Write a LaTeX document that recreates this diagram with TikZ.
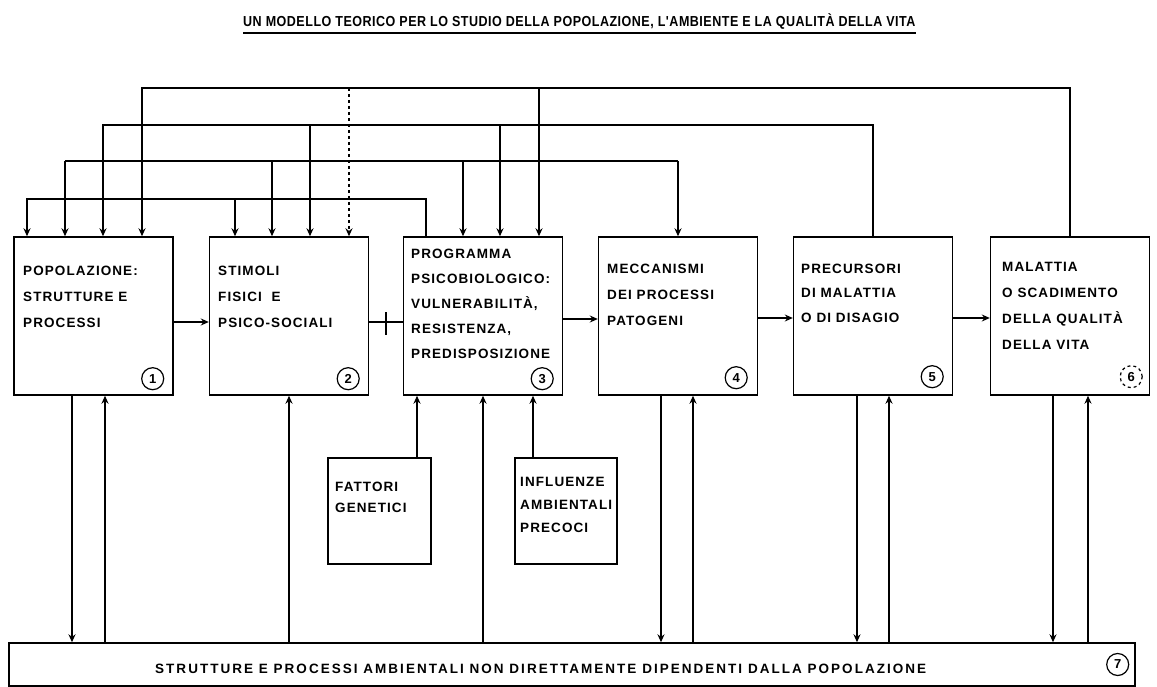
\documentclass[tikz,border=0pt]{standalone}
\usepackage{fontspec}
\setmainfont{Liberation Sans}
\newfontfamily\lett[LetterSpace=8]{Liberation Sans Bold}
\newfontfamily\lettw[LetterSpace=15]{Liberation Sans Bold}
\newfontfamily\letttit[LetterSpace=4]{Liberation Sans Bold}
\usetikzlibrary{arrows.meta,calc}
\begin{document}
\begin{tikzpicture}[x=1pt,y=-1pt,
  box/.style={draw,line width=1.4pt,minimum width=159pt,minimum height=158pt,inner sep=0pt},
  sbox/.style={draw,line width=1.4pt,minimum width=103pt,minimum height=106pt,inner sep=0pt},
  txt/.style={anchor=north west,inner sep=0pt,align=left},
  ln/.style={line width=1.4pt},
  tip/.style={-{Stealth[length=8pt,width=7pt]}},
  num/.style={draw,circle,line width=1.2pt,minimum size=22pt,inner sep=0pt,font=\fontsize{13}{13}\selectfont\bfseries}]
\useasboundingbox (0,0) rectangle (1157,687);

% title
\node[anchor=base west,inner sep=0pt,font=\letttit\fontsize{14.5}{14.5}\selectfont] (title) at (243,27)
  {\scalebox{0.864}[1]{UN MODELLO TEORICO PER LO STUDIO DELLA POPOLAZIONE, L'AMBIENTE E LA QUALITÀ DELLA VITA}};
\draw[line width=1.1pt] ([yshift=-6pt]title.base west) -- ([yshift=-6pt]title.base east);

% main boxes
\node[box] (b1) at (93.5,316) {};
\node[box] (b2) at (289,316) {};
\node[box] (b3) at (483,316) {};
\node[box] (b4) at (678,316) {};
\node[box] (b5) at (873,316) {};
\node[box] (b6) at (1070,316) {};
\node[sbox] (f) at (379.5,511) {};
\node[sbox,minimum width=102pt] (i) at (566,511) {};
\node[draw,line width=1.4pt,minimum width=1126pt,minimum height=43pt,inner sep=0pt] (b7) at (572,664.5) {};

% texts
\node[txt,font=\lett\fontsize{13.5}{26}\selectfont] (t1) at (23,265.5) {POPOLAZIONE:\\STRUTTURE E\\PROCESSI};
\node[txt,font=\lett\fontsize{13.5}{26}\selectfont] (t2) at (218,265.5) {STIMOLI\\FISICI\ \ E\\PSICO-SOCIALI};
\node[txt,font=\lett\fontsize{13.5}{25}\selectfont] (t3) at (411,248.5) {PROGRAMMA\\PSICOBIOLOGICO:\\VULNERABILITÀ,\\RESISTENZA,\\PREDISPOSIZIONE};
\node[txt,font=\lett\fontsize{13.5}{26}\selectfont] (t4) at (607,263.5) {MECCANISMI\\DEI PROCESSI\\PATOGENI};
\node[txt,font=\lett\fontsize{13.5}{24.5}\selectfont] (t5) at (801,263.5) {PRECURSORI\\DI MALATTIA\\O DI DISAGIO};
\node[txt,font=\lett\fontsize{13.5}{26}\selectfont] (t6) at (1002,262.5) {MALATTIA\\O SCADIMENTO\\DELLA QUALITÀ\\DELLA VITA};
\node[txt,font=\lett\fontsize{13.5}{21}\selectfont] (tf) at (335,481.5) {FATTORI\\GENETICI};
\node[txt,font=\lett\fontsize{13.5}{23}\selectfont] (ti) at (520,477.5) {INFLUENZE\\AMBIENTALI\\PRECOCI};
\node[anchor=base west,inner sep=0pt,font=\lettw\fontsize{13.5}{13.5}\selectfont] (t7) at (155,673)
  {STRUTTURE E PROCESSI AMBIENTALI NON DIRETTAMENTE DIPENDENTI DALLA POPOLAZIONE};

% circled numbers
\node[num] (n1) at ([xshift=-21pt,yshift=17pt]b1.south east) {1};
\node[num] (n2) at ([xshift=-21pt,yshift=17pt]b2.south east) {2};
\node[num] (n3) at ([xshift=-21pt,yshift=17pt]b3.south east) {3};
\node[num] (n4) at ([xshift=-22pt,yshift=18pt]b4.south east) {4};
\node[num] (n5) at ([xshift=-21pt,yshift=19pt]b5.south east) {5};
\node[num,dashed] (n6) at ([xshift=-19pt,yshift=19pt]b6.south east) {6};
\node[num] (n7) at ([xshift=-18pt]b7.east) {7};

% feedback levels
\coordinate (L1) at (0,88);
\coordinate (L2) at (0,125);
\coordinate (L3) at (0,161);
\coordinate (L4) at (0,199);
\coordinate (b1t1) at ([xshift=-66.5pt]b1.north);
\coordinate (b1t2) at ([xshift=-28.5pt]b1.north);
\coordinate (b1t3) at ([xshift=9.5pt]b1.north);
\coordinate (b1t4) at ([xshift=48.5pt]b1.north);
\coordinate (b2t1) at ([xshift=-54pt]b2.north);
\coordinate (b2t2) at ([xshift=-17pt]b2.north);
\coordinate (b2t3) at ([xshift=21pt]b2.north);
\coordinate (b2t4) at ([xshift=60pt]b2.north);
\coordinate (b3t1) at ([xshift=-57pt]b3.north);
\coordinate (b3t2) at ([xshift=-20pt]b3.north);
\coordinate (b3t3) at ([xshift=17pt]b3.north);
\coordinate (b3t4) at ([xshift=56pt]b3.north);

% level 1: from 6
\draw[ln,tip] (b6.north) -- (b6.north |- L1) -| (b1t4);
\draw[ln,dashed,tip] (b2t4 |- L1) -- (b2t4);
\draw[ln,tip] (b3t4 |- L1) -- (b3t4);
% level 2: from 5
\draw[ln,tip] (b5.north) -- (b5.north |- L2) -| (b1t3);
\draw[ln,tip] (b2t3 |- L2) -- (b2t3);
\draw[ln,tip] (b3t3 |- L2) -- (b3t3);
% level 3
\draw[ln] (b1t2 |- L3) -- (b4.north |- L3);
\draw[ln,tip] (b1t2 |- L3) -- (b1t2);
\draw[ln,tip] (b2t2 |- L3) -- (b2t2);
\draw[ln,tip] (b3t2 |- L3) -- (b3t2);
\draw[ln,tip] (b4.north |- L3) -- (b4.north);
% level 4: from 3
\draw[ln,tip] (b3t1) -- (b3t1 |- L4) -| (b1t1);
\draw[ln,tip] (b2t1 |- L4) -- (b2t1);

% horizontal chain
\draw[ln,tip] ([yshift=-6pt]b1.east) -- ([yshift=-6pt]b1.east -| b2.west);
\draw[ln] ([yshift=-6pt]b2.east) -- ([yshift=-6pt]b2.east -| b3.west);
\draw[ln] ($(b2.east)!0.5!(b3.west)+(0,-4)$) -- ++(0,23);
\draw[ln,tip] ([yshift=-3pt]b3.east) -- ([yshift=-3pt]b3.east -| b4.west);
\draw[ln,tip] ([yshift=-2pt]b4.east) -- ([yshift=-2pt]b4.east -| b5.west);
\draw[ln,tip] ([yshift=-2pt]b5.east) -- ([yshift=-2pt]b5.east -| b6.west);

% bottom connections
\draw[ln,tip] ([xshift=-21.5pt]b1.south) -- ([xshift=-21.5pt]b1.south |- b7.north);
\draw[ln,tip] ([xshift=11.5pt]b1.south |- b7.north) -- ([xshift=11.5pt]b1.south);
\draw[ln,tip] (b2.south |- b7.north) -- (b2.south);
\draw[ln,tip] (b3.south |- b7.north) -- (b3.south);
\draw[ln,tip] ([xshift=37.5pt]f.north) -- ([xshift=37.5pt]f.north |- b3.south);
\draw[ln,tip] ([xshift=-33pt]i.north) -- ([xshift=-33pt]i.north |- b3.south);
\draw[ln,tip] ([xshift=-17pt]b4.south) -- ([xshift=-17pt]b4.south |- b7.north);
\draw[ln,tip] ([xshift=15pt]b4.south |- b7.north) -- ([xshift=15pt]b4.south);
\draw[ln,tip] ([xshift=-16pt]b5.south) -- ([xshift=-16pt]b5.south |- b7.north);
\draw[ln,tip] ([xshift=16pt]b5.south |- b7.north) -- ([xshift=16pt]b5.south);
\draw[ln,tip] ([xshift=-17pt]b6.south) -- ([xshift=-17pt]b6.south |- b7.north);
\draw[ln,tip] ([xshift=18pt]b6.south |- b7.north) -- ([xshift=18pt]b6.south);
\end{tikzpicture}
\end{document}
